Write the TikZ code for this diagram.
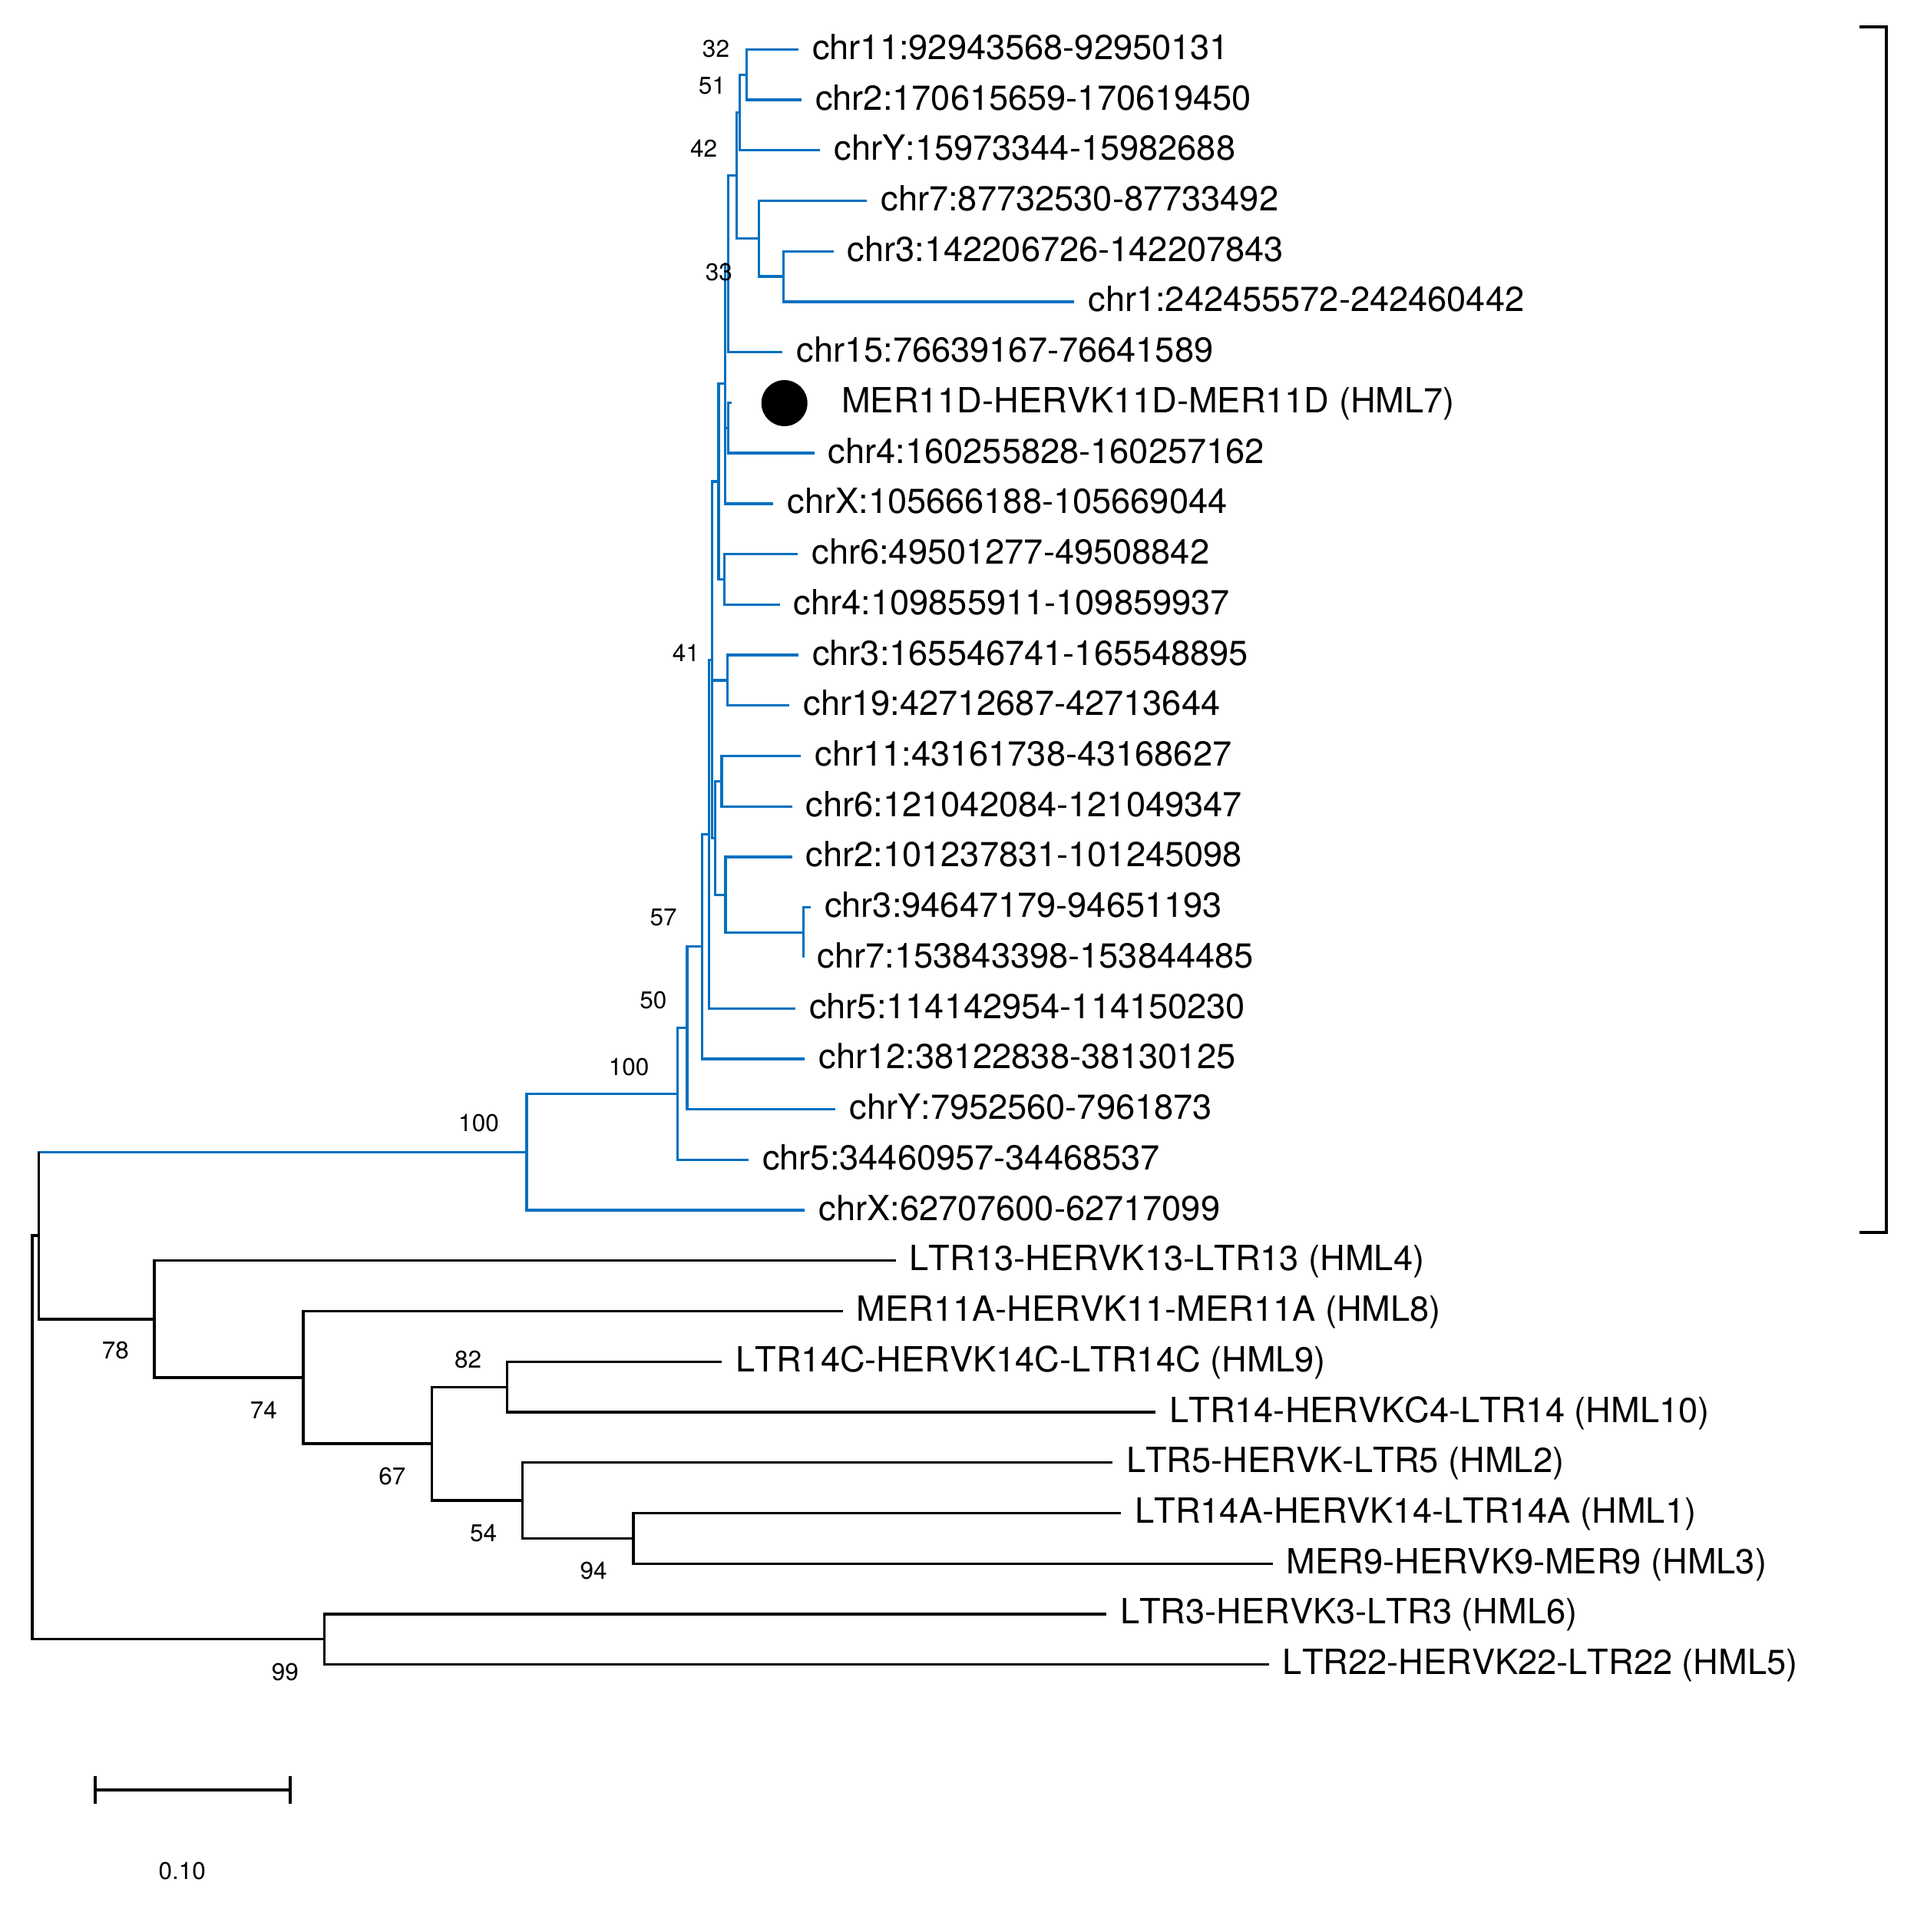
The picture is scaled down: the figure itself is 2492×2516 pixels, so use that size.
\documentclass[tikz,border=0pt]{standalone}
\usepackage{fontspec}
\setmainfont[Kerning=Off]{TeX Gyre Heros}
\definecolor{treeblue}{RGB}{0,112,192}
\tikzset{
  br/.style={line width=3.3pt, line join=miter, line cap=butt},
  bl/.style={br, draw=treeblue},
  bk/.style={br, draw=black},
  leaflab/.style={anchor=base west, inner sep=0pt, xshift=18pt, yshift=-13pt, font=\fontsize{45.2}{50}\selectfont},
  boot/.style={anchor=center, inner sep=0pt, font=\fontsize{31.5}{36}\selectfont},
}
\begin{document}
\begin{tikzpicture}[x=1pt,y=-1pt]
\useasboundingbox (0,0) rectangle (2492,2516);
% leaf tips
\coordinate (L0) at (1040,64.3);
\coordinate (L1) at (1044,130.03);
\coordinate (L2) at (1068.3,195.76);
\coordinate (L3) at (1129.3,261.49);
\coordinate (L4) at (1085.7,327.22);
\coordinate (L5) at (1399.2,392.95);
\coordinate (L6) at (1019.3,458.68);
\coordinate (L7) at (953.3,524.41);
\coordinate (L8) at (1060.7,590.14);
\coordinate (L9) at (1007.3,655.87);
\coordinate (L10) at (1039.3,721.6);
\coordinate (L11) at (1015.7,787.33);
\coordinate (L12) at (1040,853.06);
\coordinate (L13) at (1028.3,918.79);
\coordinate (L14) at (1043.3,984.52);
\coordinate (L15) at (1031.7,1050.25);
\coordinate (L16) at (1031.7,1115.98);
\coordinate (L17) at (1056,1181.71);
\coordinate (L18) at (1046.7,1247.44);
\coordinate (L19) at (1036,1313.17);
\coordinate (L20) at (1048.3,1378.9);
\coordinate (L21) at (1088.3,1444.63);
\coordinate (L22) at (975,1510.36);
\coordinate (L23) at (1048.3,1576.09);
\coordinate (L24) at (1166.5,1641.82);
\coordinate (L25) at (1097.5,1707.55);
\coordinate (L26) at (940.3,1773.28);
\coordinate (L27) at (1505.1,1839.01);
\coordinate (L28) at (1449,1904.74);
\coordinate (L29) at (1460.2,1970.47);
\coordinate (L30) at (1657.6,2036.2);
\coordinate (L31) at (1441,2101.93);
\coordinate (L32) at (1652.7,2167.66);
% internal nodes
\coordinate (n32) at (972.7,97.17);
\coordinate (n51) at (963.3,146.47);
\coordinate (nd) at (1020.7,360.09);
\coordinate (nc) at (988.3,310.79);
\coordinate (n42) at (959.3,228.63);
\coordinate (n33) at (948.3,343.66);
\coordinate (m1) at (948.3,557.28);
\coordinate (p1) at (944.7,499.77);
\coordinate (m4) at (943.3,754.47);
\coordinate (x1) at (936,627.12);
\coordinate (np) at (947.3,885.93);
\coordinate (nq) at (940,1017.39);
\coordinate (ns) at (1046.7,1214.58);
\coordinate (nr) at (945,1165.28);
\coordinate (t1) at (931.3,1091.34);
\coordinate (n41) at (927.5,859.23);
\coordinate (na1) at (923.3,1086.2);
\coordinate (n57) at (914.7,1232.55);
\coordinate (n50) at (895,1338.59);
\coordinate (n100b) at (882.3,1424.48);
\coordinate (n100a) at (686,1500.29);
\coordinate (ne) at (660.2,1806.15);
\coordinate (ng) at (825,2003.34);
\coordinate (nf) at (680.8,1954.04);
\coordinate (ndd) at (562.6,1880.1);
\coordinate (ncc) at (395,1793.83);
\coordinate (nb) at (200.9,1717.83);
\coordinate (na) at (50.5,1609.06);
\coordinate (nh) at (422.5,2134.8);
\coordinate (root) at (41.9,1871.93);
\coordinate (atop) at (na |- n100a);
% blue clade
\draw[bl] (L0) -| (n32) |- (L1);
\draw[bl] (n32) -| (n51) |- (L2);
\draw[bl] (L4) -| (nd) |- (L5);
\draw[bl] (L3) -| (nc) |- (nd);
\draw[bl] (n51) -| (n42) |- (nc);
\draw[bl] (n42) -| (n33) |- (L6);
\draw[bl] (L7) -| (m1) |- (L8);
\draw[bl] (n33) -| (p1) |- (L9);
\draw[bl] (p1 |- m1) -- (m1);
\draw[bl] (L10) -| (m4) |- (L11);
\draw[bl] (p1) -| (x1) |- (m4);
\draw[bl] (L12) -| (np) |- (L13);
\draw[bl] (L14) -| (nq) |- (L15);
\draw[bl] (L17) -| (ns) |- (L18);
\draw[bl] (L16) -| (nr) |- (ns);
\draw[bl] (nq) -| (t1) |- (nr);
\draw[bl] (x1) -| (n41) |- (t1);
\draw[bl] (n41 |- np) -- (np);
\draw[bl] (n41) -| (na1) |- (L19);
\draw[bl] (na1) -| (n57) |- (L20);
\draw[bl] (n57) -| (n50) |- (L21);
\draw[bl] (n50) -| (n100b) |- (L22);
\draw[bl] (n100b) -| (n100a) |- (L23);
\draw[bl] ([xshift=-1.65pt]atop) -- (n100a);
% black part
\draw[bk] (atop) -- (na) |- (nb);
\draw[bk] (L26) -| (ne) |- (L27);
\draw[bk] (L29) -| (ng) |- (L30);
\draw[bk] (L28) -| (nf) |- (ng);
\draw[bk] (ne) -| (ndd) |- (nf);
\draw[bk] (L25) -| (ncc) |- (ndd);
\draw[bk] (L24) -| (nb) |- (ncc);
\draw[bk] (L31) -| (nh) |- (L32);
\draw[bk] (na) -| (root) |- (nh);
% marker
\node[circle, fill=black, inner sep=0pt, minimum size=60pt] (dot) at (1021.7,525) {};
% leaf labels
\node[leaflab] (t0) at (L0) {chr11:92943568-92950131};
\node[leaflab] (t1) at (L1) {chr2:170615659-170619450};
\node[leaflab] (t2) at (L2) {chrY:15973344-15982688};
\node[leaflab] (t3) at (L3) {chr7:87732530-87733492};
\node[leaflab] (t4) at (L4) {chr3:142206726-142207843};
\node[leaflab] (t5) at (L5) {chr1:242455572-242460442};
\node[leaflab] (t6) at (L6) {chr15:76639167-76641589};
\node[leaflab, xshift=124.7pt] (t7) at (L7) {MER11D-HERVK11D-MER11D (HML7)};
\node[leaflab] (t8) at (L8) {chr4:160255828-160257162};
\node[leaflab] (t9) at (L9) {chrX:105666188-105669044};
\node[leaflab] (t10) at (L10) {chr6:49501277-49508842};
\node[leaflab] (t11) at (L11) {chr4:109855911-109859937};
\node[leaflab] (t12) at (L12) {chr3:165546741-165548895};
\node[leaflab] (t13) at (L13) {chr19:42712687-42713644};
\node[leaflab] (t14) at (L14) {chr11:43161738-43168627};
\node[leaflab] (t15) at (L15) {chr6:121042084-121049347};
\node[leaflab] (t16) at (L16) {chr2:101237831-101245098};
\node[leaflab] (t17) at (L17) {chr3:94647179-94651193};
\node[leaflab] (t18) at (L18) {chr7:153843398-153844485};
\node[leaflab] (t19) at (L19) {chr5:114142954-114150230};
\node[leaflab] (t20) at (L20) {chr12:38122838-38130125};
\node[leaflab] (t21) at (L21) {chrY:7952560-7961873};
\node[leaflab] (t22) at (L22) {chr5:34460957-34468537};
\node[leaflab] (t23) at (L23) {chrX:62707600-62717099};
\node[leaflab] (t24) at (L24) {LTR13-HERVK13-LTR13 (HML4)};
\node[leaflab] (t25) at (L25) {MER11A-HERVK11-MER11A (HML8)};
\node[leaflab] (t26) at (L26) {LTR14C-HERVK14C-LTR14C (HML9)};
\node[leaflab] (t27) at (L27) {LTR14-HERVKC4-LTR14 (HML10)};
\node[leaflab] (t28) at (L28) {LTR5-HERVK-LTR5 (HML2)};
\node[leaflab] (t29) at (L29) {LTR14A-HERVK14-LTR14A (HML1)};
\node[leaflab] (t30) at (L30) {MER9-HERVK9-MER9 (HML3)};
\node[leaflab] (t31) at (L31) {LTR3-HERVK3-LTR3 (HML6)};
\node[leaflab] (t32) at (L32) {LTR22-HERVK22-LTR22 (HML5)};
% bootstrap values
\node[boot] (b32) at (932.5,63.3) {32};
\node[boot] (b51) at (927.5,111.7) {51};
\node[boot] (b42) at (916.7,193.7) {42};
\node[boot] (b33) at (936.3,354.2) {33};
\node[boot] (b41) at (893.5,850) {41};
\node[boot] (b57) at (864.2,1195) {57};
\node[boot] (b50) at (850.8,1302.5) {50};
\node[boot] (b100b) at (819.2,1389.2) {100};
\node[boot] (b100a) at (623.5,1462.5) {100};
\node[boot] (b78) at (150.4,1758.6) {78};
\node[boot] (b74) at (343.3,1836.6) {74};
\node[boot] (b82) at (609.6,1770.6) {82};
\node[boot] (b67) at (510.9,1922.7) {67};
\node[boot] (b54) at (629.7,1996.9) {54};
\node[boot] (b94) at (773.2,2045.7) {94};
\node[boot] (b99) at (371.4,2177.3) {99};
% bracket
\coordinate (bt) at (2456.7,35);
\coordinate (bb) at (2456.7,1605);
\draw[bk, line width=3.8pt] ([xshift=-35pt]bt) -- (bt) -- (bb) -- ([xshift=-35pt]bb);
% scale bar
\coordinate (s0) at (124,2331);
\coordinate (s1) at (377.7,2331);
\draw[bk] (s0) -- (s1);
\draw[bk, line width=3.8pt] ([yshift=18pt]s0) -- ([yshift=-18pt]s0);
\draw[bk, line width=3.8pt] ([yshift=18pt]s1) -- ([yshift=-18pt]s1);
\node[boot] (sl) at (237.3,2436.7) {0.10};
\end{tikzpicture}
\end{document}
